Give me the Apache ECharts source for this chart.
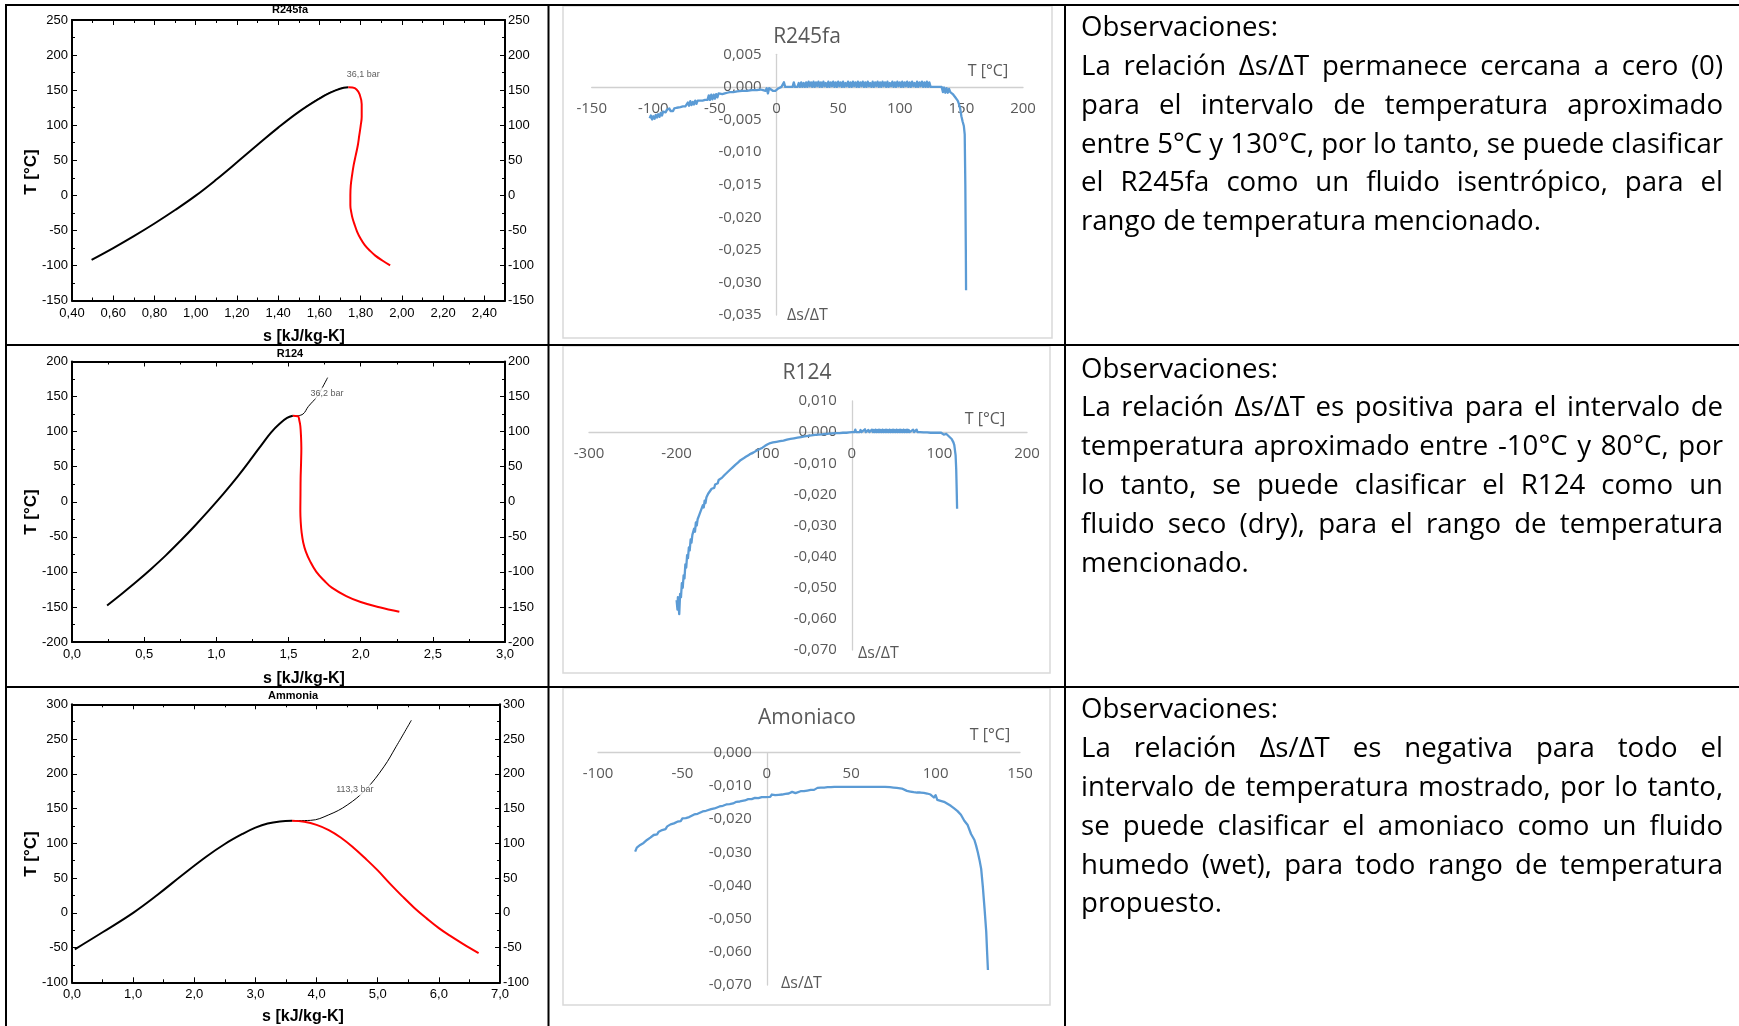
<!DOCTYPE html>
<html><head><meta charset="utf-8">
<script src="https://cdn.jsdelivr.net/npm/echarts@6/dist/echarts.min.js"></script>
<style>html,body{margin:0;padding:0;background:#fff}#c{width:1739px;height:1026px}</style>
</head><body><div id="c"></div>
<script>
// ================= DATA =================
// --- T-s diagrams (s in kJ/kg-K, T in °C) ---
const r245Liquid = [[0.495,-92],[0.60,-75.2],[0.70,-58.2],[0.80,-40.2],[0.90,-21],[1.00,-0.5],[1.10,22.5],[1.20,47],[1.30,72],[1.40,96.5],[1.50,119],[1.60,138],[1.65,146],[1.70,152],[1.74,154]];
const r245Vapor = [[1.74,154],[1.76,153.6],[1.78,151],[1.795,144],[1.805,130],[1.805,112],[1.80,99],[1.793,85],[1.786,71],[1.776,57],[1.766,43],[1.758,28],[1.752,14],[1.75,0],[1.75,-14],[1.755,-25],[1.761,-33],[1.772,-43],[1.783,-52],[1.80,-62],[1.82,-71],[1.845,-79],[1.871,-86],[1.905,-93],[1.943,-100]];
const r245Isobar = [[1.53,125.5],[1.58,135],[1.63,143.5],[1.68,150],[1.72,153.8]];
const r245IsobarLabelPos = [[1.812,172.8]];
const r245IsobarLabel = '36,1 bar';

const r124Liquid = [[0.243,-148],[0.35,-130.5],[0.45,-113.5],[0.55,-95.5],[0.65,-76.5],[0.75,-56],[0.85,-34.5],[0.95,-12],[1.05,11.5],[1.15,36.5],[1.25,63.5],[1.32,83],[1.38,99],[1.44,111.5],[1.49,119.5],[1.53,122.5]];
const r124Vapor = [[1.53,122.5],[1.565,122],[1.575,116],[1.582,108],[1.587,92],[1.589,76],[1.587,55],[1.584,33],[1.583,10],[1.582,-14],[1.585,-30],[1.591,-44],[1.602,-58],[1.62,-71],[1.65,-85],[1.693,-100],[1.75,-113],[1.80,-122.5],[1.90,-134.5],[2.0,-143],[2.13,-150.5],[2.268,-157]];
const r124Isobar = [[1.55,122.3],[1.60,125],[1.637,135.7],[1.698,150],[1.735,163],[1.771,177]];
const r124IsobarLabelPos = [[1.766,154.8]];
const r124IsobarLabel = '36,2 bar';

const nh3Liquid = [[0.046,-52.5],[0.5,-28],[1.0,0],[1.4,26],[1.8,54],[2.2,81],[2.5,99],[2.8,114],[3.0,122.5],[3.2,128.5],[3.4,131.5],[3.6,132.5]];
const nh3Vapor = [[3.6,132.5],[3.8,131],[4.0,126.5],[4.2,119],[4.4,108],[4.6,94],[4.8,78],[5.0,61],[5.2,42],[5.4,24],[5.6,7],[5.8,-8],[6.0,-22],[6.2,-34],[6.4,-45],[6.65,-58]];
const nh3Isobar = [[3.6,132.5],[3.9,133],[4.2,141],[4.5,155],[4.8,177],[5.1,210],[5.3,239],[5.55,277]];
const nh3IsobarLabelPos = [[4.626,176.7]];
const nh3IsobarLabel = '113,3 bar';

// --- Δs/ΔT vs T (values in units of 0.001 kJ/kg-K per °C) ---
const r245DsDt = [[-103,-4.8],[-102,-4.4],[-101,-5.0],[-100,-4.5],[-99,-4.9],[-98,-4.3],[-97,-4.7],[-96,-4.2],[-95,-4.6],[-94,-4.0],[-93,-4.4],[-92,-3.8],[-91,-3.6],[-90,-3.9],[-89,-3.5],[-88,-3.8],[-87,-3.3],[-86,-3.7],[-85,-3.4],[-84,-3.7],[-83,-3.3],[-82,-3.5],[-81,-3.2],[-80,-3.4],[-78,-3.1],[-76,-3.0],[-74,-3.0],[-73,-2.9],[-72,-2.4],[-71,-2.9],[-70,-2.2],[-69,-2.8],[-68,-2.3],[-67,-2.7],[-66,-2.1],[-65,-2.6],[-64,-2.1],[-62,-2.1],[-60,-2.1],[-58,-2.0],[-56,-2.0],[-55,-1.3],[-54,-2.0],[-53,-1.2],[-52,-1.9],[-51,-1.2],[-50,-1.8],[-49,-1.1],[-48,-1.6],[-47,-1.0],[-46,-1.3],[-44,-1.1],[-42,-1.0],[-40,-0.9],[-38,-0.8],[-35,-0.8],[-32,-0.7],[-28,-0.6],[-24,-0.6],[-20,-0.5],[-16,-0.5],[-13,-0.4],[-12,-0.2],[-11,-0.5],[-10,-0.2],[-9,-0.6],[-8,-0.2],[-7,-1.0],[-6,-0.2],[-5,-0.5],[-3,-0.6],[-1,-0.6],[0,-0.6],[1,-0.3],[2,0.0],[4,0.0],[5,0.0],[6,0.7],[7,0.0],[9,0.0],[11,0.0],[13,0.0],[14,0.7],[15,0.0],[17,0.0],[18,0.6],[19,0.0],[20,0.7],[21,0.0],[22,0.6],[23,0.0],
[24,0.7],[25,0.0],[26,0.8],[27,0.1],[28,0.7],[29,0.0],[30,0.8],[31,0.0],[32,0.7],[33,0.1],[34,0.8],[35,0.0],[36,0.7],[37,0.0],[38,0.8],[39,0.1],[40,0.6],[41,0.0],[42,0.8],[43,0.0],[44,0.7],[45,0.1],[46,0.8],[47,0.0],[48,0.7],[49,0.0],[50,0.8],[51,0.1],[52,0.7],[53,0.0],[54,0.8],[55,0.0],[56,0.6],[57,0.1],[58,0.8],[59,0.0],[60,0.7],[61,0.0],[62,0.8],[63,0.1],[64,0.7],[65,0.0],[66,0.8],[67,0.0],[68,0.7],[69,0.1],[70,0.8],[71,0.0],[72,0.7],[73,0.0],[74,0.8],[75,0.1],[76,0.6],[77,0.0],[78,0.8],[79,0.0],[80,0.7],[81,0.1],[82,0.8],[83,0.0],[84,0.7],[85,0.0],[86,0.8],[87,0.1],[88,0.7],[89,0.0],[90,0.8],[91,0.0],[92,0.6],[93,0.1],[94,0.8],[95,0.0],[96,0.7],[97,0.0],[98,0.8],[99,0.1],[100,0.7],[101,0.0],[102,0.8],[103,0.0],[104,0.7],[105,0.1],[106,0.8],[107,0.0],[108,0.7],[109,0.0],[110,0.8],[111,0.1],[112,0.6],[113,0.0],[114,0.8],[115,0.0],[116,0.7],[117,0.1],[118,0.8],[119,0.0],[120,0.7],[121,0.0],[122,0.8],[123,0.0],[124,0.7],
[125,0.0],[128,0.0],[131,0.0],[134,0.0],[135,-0.8],[136,-0.1],[137,-0.9],[138,-0.2],[139,-0.9],[140,-0.3],[141,-0.8],[142,-0.5],[143,-1.1],[144,-1.0],[145,-1.6],[146,-1.3],[147,-2.1],[148,-2.6],[149,-3.3],[150,-4.5],[151,-5.3],[152,-6.0],[152.7,-7.3],[153.2,-15],[153.6,-25],[153.8,-31.2]];

const r124DsDt = [[-200,-54],[-199,-57],[-198.5,-53],[-197,-58.5],[-196,-52],[-195,-53],[-194,-48.5],[-193,-50],[-192,-46],[-191,-47],[-190,-42.5],[-189,-43.5],[-188,-39.5],[-187,-40.5],[-186,-37],[-185,-38],[-184,-34.5],[-183,-35.5],[-182,-33],[-181,-33.5],[-180,-31],[-179,-32],[-178,-29],[-177,-30],[-176,-28],[-175,-28.5],[-174,-26.5],[-173,-27],[-172,-25],[-171,-25.6],[-170,-23.5],[-169,-24.2],[-168,-22],[-167,-22.8],[-166,-21],[-165,-21.6],[-164,-19.8],[-163,-20.4],[-162,-19],[-161,-19.5],[-160,-18.2],[-159,-18.6],[-158,-17.6],[-157,-17.9],[-156,-16.8],[-155,-17.2],[-154,-16.2],[-153,-16.4],[-152,-15.4],[-151,-15.8],[-150,-14.9],[-148,-14.6],[-147,-14.0],[-145,-13.7],[-144,-13.1],[-142,-12.9],[-141,-12.3],[-139,-12.1],[-138,-11.5],[-136,-11.3],[-135,-10.7],[-133,-10.5],[-132,-10.0],[-130,-9.8],[-129,-9.2],[-127,-9.0],[-126,-8.6],[-124,-8.5],[-123,-8.0],[-121,-7.9],[-120,-7.5],[-118,-7.4],[-117,-7.0],[-115,-6.9],[-114,-6.5],[-112,-6.5],[-111,-6.1],[-108,-5.8],[-105,-5.4],[-102,-5.0],[-99,-4.4],[-96,-3.9],[-93,-3.5],[-90,-3.3],[-86,-3.1],[-82,-2.9],[-78,-2.7],[-74,-2.4],[-70,-2.2],[-66,-2.0],[-62,-1.8],[-58,-1.6],[-54,-1.4],[-50,-1.2],[-46,-1.05],[-42,-0.9],[-38,-0.8],[-34,-0.7],[-30,-0.6],[-26,-0.5],[-22,-0.4],[-18,-0.3],[-14,-0.3],[-10,-0.2],[-6,-0.2],[-3,-0.1],[-1,-0.3],
[0,0],[1,0],[2,-0.3],[3,0],[4,0.8],[5,0],[7,0],[9,0],[10,0.7],[11,0],[13,0],[15,0.9],[16,0],[18,0],[19,0.7],[20,0],[22,0],[23,0.8],[24,0],[25,0.7],[26,0],[27,0.8],[28,0],[29,0.7],[30,0],[31,0.8],[32,0],[33,0.7],[34,0],[35,0.8],[36,0],[37,0.7],[38,0],[39,0.8],[40,0],[41,0.7],[42,0],[43,0.8],[44,0],[45,0.7],[46,0],[47,0.8],[48,0],[49,0.7],[50,0],[51,0.8],[52,0],[53,0.7],[54,0],[55,0.8],[56,0],[57,0.7],[58,0],[59,0.8],[60,0],[61,0.7],[62,0],[63,0.8],[64,0],[65,0.7],[66,0],[68,0],[70,0.8],[71,0],[73,0],[74,0.8],[75,0],
[78,0],[82,-0.1],[86,-0.1],[90,-0.2],[94,-0.2],[98,-0.2],[100,-0.3],[102,-0.2],[103,-0.6],[104,-0.2],[105,-0.8],[106,-0.4],[107,-0.9],[108,-0.6],[109,-1.1],[110,-1.2],[111,-1.4],[112,-1.6],[113,-1.9],[114,-2.2],[115,-2.7],[116,-3.3],[117,-4.2],[117.6,-4.8],[118.5,-7.5],[119.2,-12],[119.7,-18],[120.2,-24.6]];

const nh3DsDt = [[-78,-29.8],[-77,-28.6],[-76,-29.0],[-75,-27.8],[-74,-28.1],[-73,-27.2],[-72,-27.0],[-71,-26.3],[-70,-26.5],[-69,-25.6],[-68,-25.6],[-67,-24.8],[-66,-24.5],[-65,-24.6],[-64,-23.8],[-62,-23.3],[-61,-22.8],[-60,-23.0],[-59,-22.2],[-58,-22.4],[-57,-21.6],[-55,-21.3],[-54,-21.0],[-53,-20.8],[-52,-20.5],[-51,-20.6],[-50,-19.8],[-48,-19.7],[-47,-19.3],[-46,-19.4],[-45,-18.8],[-43,-18.6],[-42,-18.3],[-41,-18.4],[-40,-18.0],[-38,-17.7],[-37,-17.3],[-36,-17.5],[-35,-17.0],[-33,-17.0],[-32,-16.6],[-31,-16.8],[-30,-16.3],[-28,-16.2],[-27,-15.8],[-26,-16.0],[-24,-15.6],[-22,-15.5],[-21,-15.1],[-20,-15.3],[-18,-14.8],[-16,-14.7],[-15,-14.3],[-13,-14.4],[-11,-14.0],[-9,-14.0],[-7,-13.6],[-5,-13.7],[-3,-13.4],[-1,-13.4],[0,-13.2],[2,-13.3],[3,-12.6],[5,-12.8],[7,-12.7],[9,-12.6],[11,-12.4],[12,-11.8],[13,-12.3],[14,-12.2],[15,-11.8],[17,-12.2],[18,-11.7],[20,-11.6],[22,-11.6],[24,-11.4],[26,-11.2],[27,-10.7],[28,-11.2],[29,-10.9],[30,-10.6],[31,-11.1],[32,-10.5],[33,-11.0],[34,-10.5],[35,-10.8],[36,-10.4],[37,-10.9],[38,-10.4],[40,-10.3],[45,-10.3],[50,-10.3],[55,-10.3],[60,-10.3],[65,-10.3],[70,-10.3],[73,-10.4],[74,-10.9],[75,-10.5],[76,-11.0],[77,-10.6],[78,-11.2],[80,-10.8],[81,-11.4],[83,-11.5],[85,-11.7],[87,-11.9],[89,-12.0],[91,-12.0],[93,-12.1],[95,-12.3],[97,-12.6],[98,-12.2],[99,-13.5],[100,-12.8],[101,-14.2],[102,-13.6],[103,-14.5],[104,-13.9],[105,-14.8],[106,-14.3],[107,-15.4],[108,-15.0],[109,-16.0],[110,-15.6],[111,-16.8],[112,-16.5],[113,-17.6],[114,-17.4],[115,-18.7],[116,-19.2],[117,-20.5],[118,-20.3],[119,-21.8],[120,-22.3],[121,-24.5],[122,-24.0],[123,-26.3],[124,-28.0],[125,-30.0],[126,-32.3],[127,-35.0],[128,-40.5],[129,-47.0],[130,-54.0],[130.5,-60.0],[131,-65.5]];

// --- texts ---
const tsTitles = ['R245fa', 'R124', 'Ammonia'];
const dsTitles = ['R245fa', 'R124', 'Amoniaco'];
const tsXName = 's [kJ/kg-K]';
const tsYName = 'T [°C]';
const dsXName = 'T [°C]';
const dsYName = 'Δs/ΔT';
const obsR245 = ['Observaciones:', 'La relación Δs/ΔT permanece cercana a cero (0)', 'para el intervalo de temperatura aproximado', 'entre 5°C y 130°C, por lo tanto, se puede clasificar', 'el R245fa como un fluido isentrópico, para el', 'rango de temperatura mencionado.'];
const obsR124 = ['Observaciones:', 'La relación Δs/ΔT es positiva para el intervalo de', 'temperatura aproximado entre -10°C y 80°C, por', 'lo tanto, se puede clasificar el R124 como un', 'fluido seco (dry), para el rango de temperatura', 'mencionado.'];
const obsNH3 = ['Observaciones:', 'La relación Δs/ΔT es negativa para todo el', 'intervalo de temperatura mostrado, por lo tanto,', 'se puede clasificar el amoniaco como un fluido', 'humedo (wet), para todo rango de temperatura', 'propuesto.'];

// ================= LAYOUT / STYLE =================
const FONT_TS = '"Liberation Sans", Arial, sans-serif';
const FONT_XL = '"Open Sans", "Noto Sans", sans-serif';
const BLUE = '#5B9BD5';

const tsGrids = [
  {left:72, top:20, width:433, height:280.5},
  {left:72, top:361.5, width:433, height:280.5},
  {left:72, top:704.3, width:428, height:278}
];
const dsGrids = [
  {left:591.7, top:54.3, width:431.3, height:260.7},
  {left:589, top:401, width:438, height:249},
  {left:598, top:752.7, width:422, height:232.3}
];
const tsX = [{min:0.4,max:2.5,interval:0.2,dec:2},{min:0,max:3,interval:0.5,dec:1},{min:0,max:7,interval:1,dec:1}];
const tsY = [{min:-150,max:250,interval:50},{min:-200,max:200,interval:50},{min:-100,max:300,interval:50}];
const dsX = [{min:-150,max:200,interval:50,margin:14.5},{min:-300,max:200,interval:100,margin:14.5},{min:-100,max:150,interval:50,margin:14}];
const dsY = [{min:-35,max:5,interval:5},{min:-70,max:10,interval:10},{min:-70,max:0,interval:10}];

const grids = [];
tsGrids.concat(dsGrids).forEach(g => grids.push(Object.assign({outerBoundsMode:'none', containLabel:false}, g)));

const xAxes = [], yAxes = [];
function tsBase(){
  return {type:'value', splitLine:{show:false},
    axisLine:{show:true, onZero:false, lineStyle:{color:'#000', width:2}},
    axisTick:{show:true, inside:true, length:5, lineStyle:{color:'#000', width:1}},
    minorTick:{show:true, splitNumber:2, length:3, lineStyle:{color:'#000', width:1}},
    minorSplitLine:{show:false}};
}
tsX.forEach((a, i) => {
  xAxes.push(Object.assign(tsBase(), {gridIndex:i, position:'bottom', min:a.min, max:a.max, interval:a.interval,
    axisLabel:{show:true, margin:6, fontSize:13, color:'#000', fontFamily:FONT_TS, showMaxLabel: i !== 0,
      formatter: v => v.toFixed(a.dec).replace('.', ',')}}));
  xAxes.push(Object.assign(tsBase(), {gridIndex:i, position:'top', min:a.min, max:a.max, interval:a.interval, axisLabel:{show:false}}));
});
tsY.forEach((a, i) => {
  yAxes.push(Object.assign(tsBase(), {gridIndex:i, position:'left', min:a.min, max:a.max, interval:a.interval,
    axisLabel:{show:true, margin:4, fontSize:13, color:'#000', fontFamily:FONT_TS}}));
  yAxes.push(Object.assign(tsBase(), {gridIndex:i, position:'right', min:a.min, max:a.max, interval:a.interval,
    axisLabel:{show:true, margin:3, fontSize:13, color:'#000', fontFamily:FONT_TS}}));
});
// Excel-style axes crossing at zero: shift each axis from the grid edge to the zero line
dsX.forEach((a, j) => {
  const g = dsGrids[j], ya = dsY[j];
  const off = -((0 - ya.min) / (ya.max - ya.min)) * g.height;
  xAxes.push({type:'value', gridIndex:3+j, position:'bottom', offset:off, min:a.min, max:a.max, interval:a.interval, splitLine:{show:false},
    axisLine:{show:true, onZero:false, lineStyle:{color:'#d0d0d0', width:1.3}}, axisTick:{show:false},
    axisLabel:{margin:a.margin, fontSize:15, color:'#595959', fontFamily:FONT_XL, showMinLabel:true, showMaxLabel:true}});
});
dsY.forEach((a, j) => {
  const g = dsGrids[j], xa = dsX[j];
  const off = -((0 - xa.min) / (xa.max - xa.min)) * g.width;
  yAxes.push({type:'value', gridIndex:3+j, position:'left', offset:off, min:a.min, max:a.max, interval:a.interval, splitLine:{show:false},
    axisLine:{show:true, onZero:false, lineStyle:{color:'#d0d0d0', width:1.3}}, axisTick:{show:false},
    axisLabel:{margin:15, fontSize:15, color:'#595959', fontFamily:FONT_XL, showMinLabel:true, showMaxLabel:true,
      formatter: v => (v / 1000).toFixed(3).replace('.', ',')}});
});

const series = [];
const tsSets = [
  [r245Liquid, r245Vapor, r245Isobar, r245IsobarLabelPos, r245IsobarLabel, false],
  [r124Liquid, r124Vapor, r124Isobar, r124IsobarLabelPos, r124IsobarLabel, true],
  [nh3Liquid, nh3Vapor, nh3Isobar, nh3IsobarLabelPos, nh3IsobarLabel, true]
];
tsSets.forEach((s, i) => {
  const ax = {xAxisIndex:2*i, yAxisIndex:2*i};
  series.push(Object.assign({type:'line', name:'isobar', data:s[2], showSymbol:false, symbol:'none', smooth:0.4,
    lineStyle:{color:'#000', width:1}, silent:true, z:2}, ax));
  series.push(Object.assign({type:'line', name:'liquido', data:s[0], showSymbol:false, symbol:'none', smooth:0.4,
    lineStyle:{color:'#000', width:2}, silent:true, z:3}, ax));
  series.push(Object.assign({type:'line', name:'vapor', data:s[1], showSymbol:false, symbol:'none', smooth:0.4,
    lineStyle:{color:'#ff0000', width:2}, silent:true, z:3}, ax));
  series.push(Object.assign({type:'scatter', name:'label', data:s[3], symbolSize:1, itemStyle:{color:'rgba(0,0,0,0)'}, silent:true, z:5,
    label:{show:true, position:'inside', formatter:s[4], fontSize:9, color:'#333', fontFamily:FONT_TS,
      backgroundColor: s[5] ? '#fff' : 'transparent', padding:[1,2]}}, ax));
});
[r245DsDt, r124DsDt, nh3DsDt].forEach((d, j) => {
  series.push({type:'line', name:dsTitles[j], xAxisIndex:6+j, yAxisIndex:6+j, data:d, showSymbol:false, symbol:'none',
    lineStyle:{color:BLUE, width:2.3, join:'round'}, silent:true, z:3});
});

// titles
const titles = [];
const tsTitlePos = [[290,10],[290,354],[293,695.5]];
tsTitles.forEach((t, i) => titles.push({text:t, left:tsTitlePos[i][0], top:tsTitlePos[i][1], padding:0, textAlign:'center', textVerticalAlign:'middle',
  textStyle:{fontSize:11, fontWeight:'bold', color:'#000', fontFamily:FONT_TS}}));
const dsTitlePos = [[807,37],[807,373],[807,718]];
dsTitles.forEach((t, i) => titles.push({text:t, left:dsTitlePos[i][0], top:dsTitlePos[i][1], padding:0, textAlign:'center', textVerticalAlign:'middle',
  textStyle:{fontSize:21, fontWeight:'normal', color:'#595959', fontFamily:FONT_XL}}));

// graphics
const graphic = [];
function txt(text, x, y, font, fill, align, valign, rot){
  graphic.push({type:'text', x:x, y:y, rotation:rot||0, silent:true, z:10,
    style:{text:text, font:font, fill:fill, align:align, verticalAlign:valign, textAlign:align, textVerticalAlign:valign}});
}
function line(x1,y1,x2,y2,color,w){
  graphic.push({type:'line', silent:true, z:20, shape:{x1,y1,x2,y2}, style:{stroke:color, lineWidth:w}});
}
// Excel chart frames
[[563,6,489,332],[563,346,487,327],[563,688,487,317]].forEach(r => graphic.push({type:'rect', silent:true, z:-1,
  shape:{x:r[0], y:r[1], width:r[2], height:r[3]}, style:{fill:'#fff', stroke:'#d9d9d9', lineWidth:1.5}}));
// axis titles
const tsXNamePos = [[304,337],[304,679],[303,1017]];
const tsYNamePos = [[31,172],[31,512],[31,854]];
tsXNamePos.forEach(p => txt(tsXName, p[0], p[1], 'bold 16px ' + FONT_TS, '#000', 'center', 'middle'));
tsYNamePos.forEach(p => txt(tsYName, p[0], p[1], 'bold 17px ' + FONT_TS, '#000', 'center', 'middle', Math.PI/2));
const dsXNamePos = [[988,71],[985,419],[990,735]];
const dsYNamePos = [[787,315],[858,653],[781,983]];
dsXNamePos.forEach(p => txt(dsXName, p[0], p[1], '16px ' + FONT_XL, '#595959', 'center', 'middle'));
dsYNamePos.forEach(p => txt(dsYName, p[0], p[1], '16px ' + FONT_XL, '#595959', 'left', 'middle'));

// observation paragraphs (justified)
const ctx = document.createElement('canvas').getContext('2d');
function mw(t, size){ ctx.font = size + 'px ' + FONT_XL; return ctx.measureText(t).width; }
const xL = 1081, xR = 1723, avail = xR - xL;
let fs = 197 / mw('Observaciones:', 100) * 100;
[obsR245, obsR124, obsNH3].forEach(par => par.slice(1, 5).forEach(l => {
  const words = l.split(' ');
  const need = words.reduce((a, w) => a + mw(w, 100), 0) + (words.length - 1) * 20;
  fs = Math.min(fs, avail / need * 100);
}));
const FONT_P = fs.toFixed(2) + 'px ' + FONT_XL;
const rowTop = [28.3, 369.8, 710.5];
const lineH = 38.8;
[obsR245, obsR124, obsNH3].forEach((par, r) => {
  par.forEach((l, k) => {
    const y = rowTop[r] + k * lineH;
    const justify = k >= 1 && k <= 4;
    if (!justify) { txt(l, xL, y, FONT_P, '#000', 'left', 'middle'); return; }
    const words = l.split(' ');
    const ww = words.map(w => mw(w, fs));
    const gap = (avail - ww.reduce((a, b) => a + b, 0)) / (words.length - 1);
    let x = xL;
    words.forEach((w, i) => { txt(w, x, y, FONT_P, '#000', 'left', 'middle'); x += ww[i] + gap; });
  });
});
// table rules
line(5,5,1739,5,'#000',2);
line(6,5,6,1026,'#000',2);
line(548.5,5,548.5,1026,'#000',2);
line(1065,5,1065,1026,'#000',2);
line(6,345,1739,345,'#000',2);
line(6,687,1739,687,'#000',2);

const chart = echarts.init(document.getElementById('c'), null, {renderer:'canvas'});
chart.setOption({
  animation:false, backgroundColor:'#fff',
  title:titles, grid:grids, xAxis:xAxes, yAxis:yAxes, series:series, graphic:graphic
});
</script></body></html>
